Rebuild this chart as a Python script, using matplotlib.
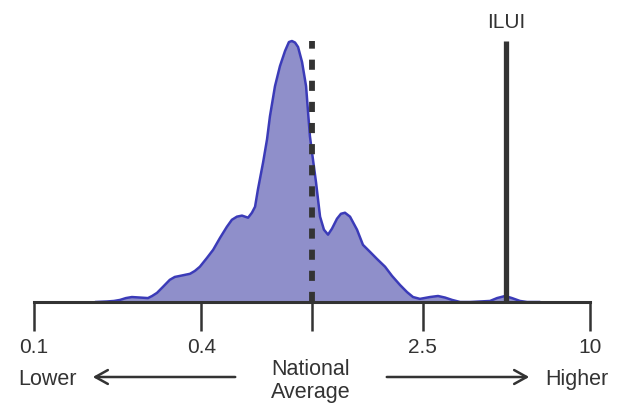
import matplotlib
matplotlib.use("Agg")
import matplotlib.pyplot as plt
import numpy as np

plt.rcParams['font.family'] = ['Liberation Sans', 'DejaVu Sans']

# Density curve (ratio to national average, relative density)
ratio = [0.166, 0.183, 0.194, 0.204, 0.214, 0.225, 0.241, 0.257, 0.266, 0.277,
         0.291, 0.308, 0.321, 0.335, 0.364, 0.379, 0.395, 0.419, 0.441, 0.467,
         0.494, 0.515, 0.537, 0.560, 0.589, 0.608, 0.624, 0.639, 0.667, 0.689,
         0.706, 0.736, 0.767, 0.800, 0.826, 0.847, 0.869, 0.891, 0.921, 0.952,
         0.968, 0.983, 1.008, 1.034, 1.069, 1.104, 1.142, 1.180, 1.230, 1.271,
         1.314, 1.370, 1.452, 1.525, 1.617, 1.713, 1.832, 1.940, 2.074, 2.197,
         2.309, 2.445, 2.656, 2.84, 3.01, 3.19, 3.41, 3.70, 4.02, 4.37,
         4.63, 4.95, 5.24, 5.60, 5.94, 6.61]
density = [0.0, 0.002, 0.004, 0.008, 0.015, 0.019, 0.017, 0.015, 0.023, 0.035,
           0.058, 0.085, 0.096, 0.100, 0.108, 0.119, 0.135, 0.169, 0.200, 0.246,
           0.288, 0.315, 0.327, 0.331, 0.323, 0.342, 0.365, 0.431, 0.535, 0.623,
           0.712, 0.827, 0.904, 0.962, 0.996, 1.000, 0.994, 0.977, 0.919, 0.827,
           0.727, 0.635, 0.546, 0.458, 0.327, 0.277, 0.258, 0.281, 0.319, 0.338,
           0.342, 0.327, 0.277, 0.219, 0.192, 0.165, 0.135, 0.100, 0.065, 0.038,
           0.019, 0.012, 0.019, 0.023, 0.017, 0.008, 0.0, 0.0, 0.002, 0.004,
           0.015, 0.023, 0.015, 0.004, 0.0, 0.0]

tick_values = [0.1, 0.4, 1.0, 2.5, 10]
tick_labels = ["0.1", "0.4", "", "2.5", "10"]
national_average = 1.0
ilui_value = 5.0
ilui_label = "ILUI"

fill_color = "#8f8fca"
edge_color = "#3b3bb8"
dark = "#333333"

fig = plt.figure(figsize=(6.25, 4.06), dpi=100)
ax = fig.add_axes([34/625, (406-303)/406, (590-34)/625, (303-42)/406])

ax.fill_between(ratio, density, 0, color=fill_color, linewidth=0, clip_on=False)
ax.plot(ratio, density, color=edge_color, linewidth=1.8, solid_capstyle='round',
        solid_joinstyle='round', clip_on=False)

lw_d = 4.2
ax.plot([national_average, national_average], [0, 1.0], color=dark, linewidth=lw_d,
        linestyle=(0, (7.3/lw_d, 7.9/lw_d)), solid_capstyle='butt', clip_on=False)
ax.plot([ilui_value, ilui_value], [0, 1.0], color=dark, linewidth=3.8,
        solid_capstyle='butt', clip_on=False)
ax.text(ilui_value, 1.0 + 20/261, ilui_label, ha='center', va='center',
        fontsize=15, color=dark)

ax.set_xscale('log')
ax.set_xlim(0.1, 10)
ax.set_ylim(0, 1.0)
ax.set_xticks(tick_values)
ax.set_xticklabels(tick_labels)
ax.xaxis.set_minor_locator(matplotlib.ticker.NullLocator())
ax.tick_params(axis='x', length=21, width=1.8, color=dark, labelsize=15,
               labelcolor=dark, pad=4)
ax.set_yticks([])
for s in ['left', 'right', 'top']:
    ax.spines[s].set_visible(False)
ax.spines['bottom'].set_color(dark)
ax.spines['bottom'].set_linewidth(2.2)
ax.spines['bottom'].set_zorder(3)
ax.set_facecolor('none')

# Bottom annotations (figure pixel coordinates)
def fx(px):
    return px / 625
def fy(py):
    return 1 - py / 406

fig.text(fx(47), fy(380), "Lower", ha='center', va='center', fontsize=15.5, color=dark)
fig.text(fx(577), fy(380), "Higher", ha='center', va='center', fontsize=15.5, color=dark)
fig.text(fx(311), fy(381), "National\nAverage", ha='center', va='center',
         fontsize=15.5, color=dark, linespacing=1.15)
fig.add_artist(matplotlib.patches.FancyArrowPatch(
    (fx(238), fy(378)), (fx(90), fy(378)), transform=fig.transFigure,
    arrowstyle='->,head_length=9,head_width=5', color=dark, linewidth=1.8,
    mutation_scale=1))
fig.add_artist(matplotlib.patches.FancyArrowPatch(
    (fx(384), fy(378)), (fx(532), fy(378)), transform=fig.transFigure,
    arrowstyle='->,head_length=9,head_width=5', color=dark, linewidth=1.8,
    mutation_scale=1))

fig.savefig("out.png", dpi=100)
